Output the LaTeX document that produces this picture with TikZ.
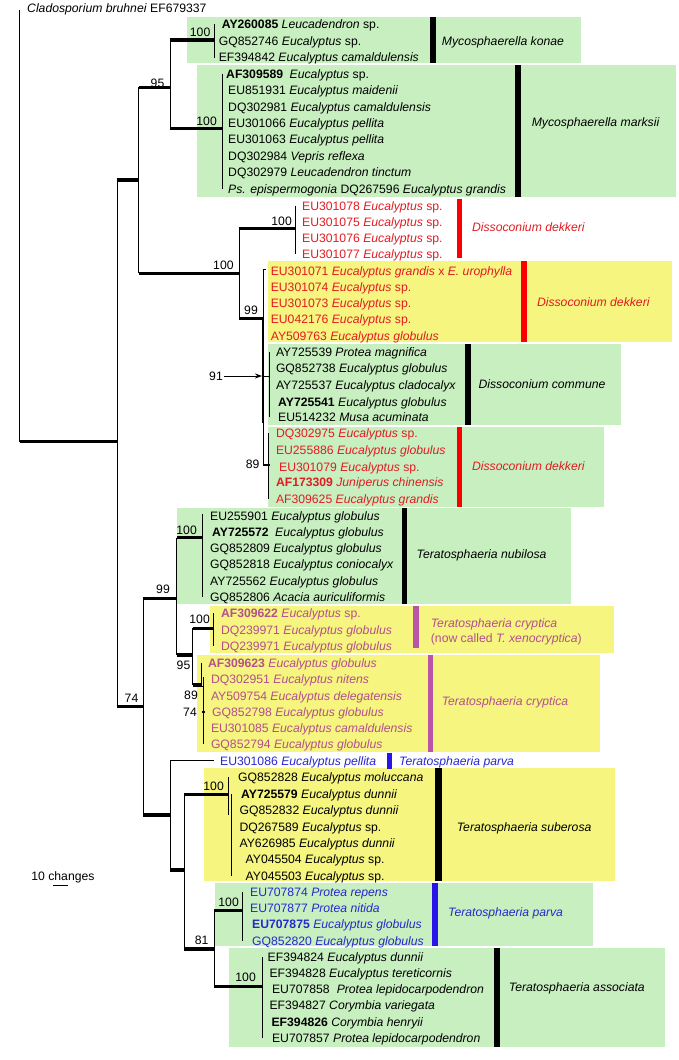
\documentclass[tikz,border=0pt]{standalone}
\usepackage{fontspec}
\setmainfont{Liberation Sans}
\usetikzlibrary{arrows.meta}
\definecolor{boxg}{RGB}{200,239,192}
\definecolor{boxy}{RGB}{245,245,128}
\definecolor{tred}{RGB}{226,28,34}
\definecolor{bred}{RGB}{250,0,0}
\definecolor{tpink}{RGB}{180,80,140}
\definecolor{bpink}{RGB}{185,85,165}
\definecolor{tblue}{RGB}{40,40,205}
\definecolor{bblue}{RGB}{40,20,230}
\newcommand\tf{\fontsize{12.2}{14}\selectfont}
\newcommand\Tip[5][black]{\node[tipt,text=#1] (#2) at (#3,#4+4.4) {#5};}
\newcommand\Bs[4]{\node[bsl] (#1) at (#2,#3+4.4) {#4};}
\newcommand\Cl[5][black]{\node[tipt,text=#1] (#2) at (#3,#4+4.4) {\textit{#5}};}
\newcommand\E{\textit{Eucalyptus}}
\tikzset{
  tipt/.style={anchor=base west, inner sep=0pt, font=\tf},
  bsl/.style={anchor=base east, inner sep=0pt, font=\tf},
  brn/.style={line width=0.9pt},
  thk/.style={line width=3.2pt},
}
\begin{document}
\begin{tikzpicture}[x=1pt,y=-1pt]
\useasboundingbox (0,0) rectangle (679,1060);
% ---------- boxes ----------
\fill[boxg] (187,16.7) rectangle (581,63.3);
\fill[boxg] (197,65.3) rectangle (676,196.7);
\fill[boxy] (267.5,261) rectangle (672,341.7);
\fill[boxg] (267.5,344) rectangle (621.2,425);
\fill[boxg] (267.5,426.7) rectangle (604,506.7);
\fill[boxg] (176.6,507.7) rectangle (570.6,604.3);
\fill[boxy] (210,605.7) rectangle (613.9,652.7);
\fill[boxy] (197,655) rectangle (599.6,752.3);
\fill[boxy] (203.5,768.3) rectangle (614.7,880.7);
\fill[boxg] (215,882.7) rectangle (593,945.7);
\fill[boxg] (229.4,948.3) rectangle (664.5,1046.7);
% ---------- bars ----------
\fill[black] (430,16.7) rectangle (436,63.3);
\fill[black] (515,65.3) rectangle (521,196.7);
\fill[bred] (456.7,199.3) rectangle (462.3,258.3);
\fill[bred] (520.8,261) rectangle (527.3,341.7);
\fill[black] (465.4,344) rectangle (471,425);
\fill[bred] (456.7,426.7) rectangle (462.3,506.7);
\fill[black] (401.7,507.7) rectangle (407,604.3);
\fill[bpink] (413.4,605.7) rectangle (419,648);
\fill[bpink] (427.7,655) rectangle (433,752);
\fill[bblue] (386.6,753) rectangle (391.8,769);
\fill[black] (435,768.3) rectangle (441.6,880.7);
\fill[bblue] (432,882.7) rectangle (438,945.7);
\fill[black] (493.5,948.3) rectangle (500,1046.7);
% ---------- tree ----------
% root
\draw[brn] (19.5,10) -- (19.5,441.7);
\draw[thk] (19.5,441.7) -- (117,441.7);
\draw[brn] (117,180) -- (117,706.7);
% node B
\draw[thk] (117,180) -- (138.5,180);
\draw[brn] (138.5,87.3) -- (138.5,273.3);
\draw[thk] (138.5,87.3) -- (170,87.3);
\draw[brn] (170,40) -- (170,128.3);
\draw[thk] (170,40) -- (214,40);
\draw[brn] (214,24) -- (214,58);
\draw[thk] (170,128.3) -- (222,128.3);
\draw[brn] (222,74) -- (222,189);
% Dissoconium
\draw[thk] (138.5,273.3) -- (239.4,273.3);
\draw[brn] (239.4,228.3) -- (239.4,318.3);
\draw[thk] (239.4,228.3) -- (295.7,228.3);
\draw[brn] (295.7,205.7) -- (295.7,254);
\draw[thk] (239.4,318.3) -- (263,318.3);
\draw[brn] (263,269) -- (263,466);
\draw[line width=1.6pt] (263,318.3) -- (263,423);
\draw[brn] (263,269.5) -- (265.5,269.5);
\draw[brn] (263,376) -- (269.5,376);
\draw[brn] (269.5,352.3) -- (269.5,417.3);
\draw[line width=2.2pt] (263,465) -- (270,465);
\draw[brn] (268.5,433) -- (268.5,499);
\draw[brn,-{Stealth[length=7pt,width=5pt]}] (224,376) -- (262,376);
% Teratosphaeria upper
\draw[thk] (117,706.7) -- (143,706.7);
\draw[brn] (143,598.3) -- (143,815);
\draw[thk] (143,598.3) -- (176.6,598.3);
\draw[brn] (176.6,537.7) -- (176.6,655);
\draw[thk] (176.6,537.7) -- (202.6,537.7);
\draw[brn] (202.6,514.3) -- (202.6,596.7);
\draw[thk] (176.6,655) -- (192.6,655);
\draw[brn] (192.6,628.3) -- (192.6,685);
\draw[thk] (192.6,628.3) -- (213.4,628.3);
\draw[brn] (213.4,613.3) -- (213.4,646);
\draw[thk] (192.6,685) -- (201.3,685);
\draw[brn] (201.3,662.7) -- (201.3,687);
\draw[brn] (201.3,686.5) -- (203.5,686.5);
\draw[brn] (203.5,677) -- (203.5,744.3);
\draw[line width=2pt] (202,711.7) -- (205,711.7);
% Teratosphaeria lower
\draw[thk] (143,815) -- (170,815);
\draw[brn] (170,760) -- (170,870);
\draw[brn] (170,760) -- (214.3,760);
\draw[thk] (170,870) -- (184,870);
\draw[brn] (184,794.3) -- (184,949);
\draw[thk] (184,794.3) -- (228.6,794.3);
\draw[brn] (228.6,777.3) -- (228.6,815);
\draw[brn] (231.5,794) -- (231.5,876);
\draw[thk] (184,949) -- (214.3,949);
\draw[brn] (214.3,910.7) -- (214.3,986.7);
\draw[thk] (214.3,910.7) -- (242.4,910.7);
\draw[brn] (242.4,891.7) -- (242.4,941);
\draw[thk] (214.3,986.7) -- (262,986.7);
\draw[brn] (262,957.3) -- (262,1038.3);
% scale bar
\draw[brn] (52.8,885) -- (68.4,885);
\node[tipt] (scl) at (31.2,875.7+4.4) {10 changes};
% ---------- tips ----------
\Tip{c1}{27}{8.3}{\textit{Cladosporium bruhnei} EF679337}
\Tip{k1}{221.6}{24.5}{\textbf{AY260085} \textit{Leucadendron} sp.}
\Tip{k2}{218.6}{41}{GQ852746 \E{} sp.}
\Tip{k3}{218.6}{57}{EF394842 \textit{Eucalyptus camaldulensis}}
\Tip{m1}{226}{74}{\textbf{AF309589}\hspace{6.5pt}\E{} sp.}
\Tip{m2}{228}{90}{EU851931 \textit{Eucalyptus maidenii}}
\Tip{m3}{228}{106.7}{DQ302981 \textit{Eucalyptus camaldulensis}}
\Tip{m4}{228}{123.3}{EU301066 \textit{Eucalyptus pellita}}
\Tip{m5}{228}{139.3}{EU301063 \textit{Eucalyptus pellita}}
\Tip{m6}{228}{156}{DQ302984 \textit{Vepris reflexa}}
\Tip{m7}{228}{172.3}{DQ302979 \textit{Leucadendron tinctum}}
\Tip{m8}{228}{189}{\textit{Ps. epispermogonia} DQ267596 \textit{Eucalyptus grandis}}
\Tip[tred]{d1}{302}{205.7}{EU301078 \E{} sp.}
\Tip[tred]{d2}{302}{221.7}{EU301075 \E{} sp.}
\Tip[tred]{d3}{302}{238}{EU301076 \E{} sp.}
\Tip[tred]{d4}{302}{254}{EU301077 \E{} sp.}
\Tip[tred]{y1}{270.6}{270.7}{EU301071 \textit{Eucalyptus grandis} x \textit{E. urophylla}}
\Tip[tred]{y2}{270.6}{287.2}{EU301074 \E{} sp.}
\Tip[tred]{y3}{270.6}{303.3}{EU301073 \E{} sp.}
\Tip[tred]{y4}{270.6}{319}{EU042176 \E{} sp.}
\Tip[tred]{y5}{270.6}{335.7}{AY509763 \textit{Eucalyptus globulus}}
\Tip{o1}{275.8}{352.3}{AY725539 \textit{Protea magnifica}}
\Tip{o2}{275.8}{368.3}{GQ852738 \textit{Eucalyptus globulus}}
\Tip{o3}{275.8}{385}{AY725537 \textit{Eucalyptus cladocalyx}}
\Tip{o4}{278}{401.7}{\textbf{AY725541} \textit{Eucalyptus globulus}}
\Tip{o5}{278}{417.3}{EU514232 \textit{Musa acuminata}}
\Tip[tred]{e1}{275.8}{433.3}{DQ302975 \E{} sp.}
\Tip[tred]{e2}{275.8}{450}{EU255886 \textit{Eucalyptus globulus}}
\Tip[tred]{e3}{279}{466.7}{EU301079 \E{} sp.}
\Tip[tred]{e4}{275.8}{482.3}{\textbf{AF173309} \textit{Juniperus chinensis}}
\Tip[tred]{e5}{275.8}{499}{AF309625 \textit{Eucalyptus grandis}}
\Tip{n1}{210}{515.7}{EU255901 \textit{Eucalyptus globulus}}
\Tip{n2}{212}{531.7}{\textbf{AY725572}\hspace{6.5pt}\textit{Eucalyptus globulus}}
\Tip{n3}{210}{547.7}{GQ852809 \textit{Eucalyptus globulus}}
\Tip{n4}{210}{564.3}{GQ852818 \textit{Eucalyptus coniocalyx}}
\Tip{n5}{210}{580.7}{AY725562 \textit{Eucalyptus globulus}}
\Tip{n6}{210}{596.7}{GQ852806 \textit{Acacia auriculiformis}}
\Tip[tpink]{x1}{220.8}{613.3}{\textbf{AF309622} \E{} sp.}
\Tip[tpink]{x2}{220.8}{630}{DQ239971 \textit{Eucalyptus globulus}}
\Tip[tpink]{x3}{220.8}{646}{DQ239971 \textit{Eucalyptus globulus}}
\Tip[tpink]{r1}{207.8}{662.7}{\textbf{AF309623} \textit{Eucalyptus globulus}}
\Tip[tpink]{r2}{210.8}{679}{DQ302951 \textit{Eucalyptus nitens}}
\Tip[tpink]{r3}{210.8}{695.7}{AY509754 \textit{Eucalyptus delegatensis}}
\Tip[tpink]{r4}{212}{711.7}{GQ852798 \textit{Eucalyptus globulus}}
\Tip[tpink]{r5}{210.8}{727.7}{EU301085 \textit{Eucalyptus camaldulensis}}
\Tip[tpink]{r6}{210.8}{744.3}{GQ852794 \textit{Eucalyptus globulus}}
\Tip[tblue]{p0}{220}{761}{EU301086 \textit{Eucalyptus pellita}}
\Tip{s1}{238}{777.3}{GQ852828 \textit{Eucalyptus moluccana}}
\Tip{s2}{241}{794}{\textbf{AY725579} \textit{Eucalyptus dunnii}}
\Tip{s3}{239.4}{810}{GQ852832 \textit{Eucalyptus dunnii}}
\Tip{s4}{239.4}{826.7}{DQ267589 \E{} sp.}
\Tip{s5}{239.4}{842.7}{AY626985 \textit{Eucalyptus dunnii}}
\Tip{s6}{245.5}{859}{AY045504 \E{} sp.}
\Tip{s7}{245.5}{875.7}{AY045503 \E{} sp.}
\Tip[tblue]{p1}{250}{891.7}{EU707874 \textit{Protea repens}}
\Tip[tblue]{p2}{250}{907.7}{EU707877 \textit{Protea nitida}}
\Tip[tblue]{p3}{252}{924.3}{\textbf{EU707875} \textit{Eucalyptus globulus}}
\Tip[tblue]{p4}{252}{941}{GQ852820 \textit{Eucalyptus globulus}}
\Tip{a1}{267.5}{957.3}{EF394824 \textit{Eucalyptus dunnii}}
\Tip{a2}{269.3}{973.3}{EF394828 \textit{Eucalyptus tereticornis}}
\Tip{a3}{271.9}{989.3}{EU707858\hspace{7pt}\textit{Protea lepidocarpodendron}}
\Tip{a4}{269.3}{1005}{EF394827 \textit{Corymbia variegata}}
\Tip{a5}{271.4}{1021.7}{\textbf{EF394826} \textit{Corymbia henryii}}
\Tip{a6}{271.9}{1038.3}{EU707857 \textit{Protea lepidocarpodendron}}
% ---------- clade names ----------
\Cl{L1}{441.7}{41}{Mycosphaerella konae}
\Cl{L2}{531.6}{121.7}{Mycosphaerella marksii}
\Cl[tred]{L3}{471.9}{226.7}{Dissoconium dekkeri}
\Cl[tred]{L4}{536.8}{301.7}{Dissoconium dekkeri}
\Cl{L5}{478.4}{384}{Dissoconium commune}
\Cl[tred]{L6}{471.9}{466}{Dissoconium dekkeri}
\Cl{L7}{416.5}{554}{Teratosphaeria nubilosa}
\Cl[tpink]{L8}{430.7}{623.3}{Teratosphaeria cryptica}
\Tip[tpink]{L8b}{430.7}{638.3}{(now called \textit{T. xenocryptica})}
\Cl[tpink]{L9}{441.6}{700.7}{Teratosphaeria cryptica}
\Cl[tblue]{L10}{399}{761}{Teratosphaeria parva}
\Cl{L11}{456.7}{826.7}{Teratosphaeria suberosa}
\Cl[tblue]{L12}{448}{912.3}{Teratosphaeria parva}
\Cl{L13}{508.7}{986.7}{Teratosphaeria associata}
% ---------- support values ----------
\Bs{b1}{210.5}{32.3}{100}
\Bs{b2}{164.5}{83}{95}
\Bs{b3}{217}{121}{100}
\Bs{b4}{292}{221}{100}
\Bs{b5}{233.8}{265}{100}
\Bs{b6}{258}{310}{99}
\Bs{b7}{223}{375.7}{91}
\Bs{b8}{259.7}{464}{89}
\Bs{b9}{197}{530}{100}
\Bs{b10}{170}{589}{99}
\Bs{b11}{210}{619.3}{100}
\Bs{b12}{190.5}{665}{95}
\Bs{b13}{198}{695}{89}
\Bs{b14}{197}{711.7}{74}
\Bs{b15}{138.5}{698.3}{74}
\Bs{b16}{224}{786}{100}
\Bs{b17}{239}{902.3}{100}
\Bs{b18}{208.7}{940}{81}
\Bs{b19}{256}{977.3}{100}
\end{tikzpicture}
\end{document}
